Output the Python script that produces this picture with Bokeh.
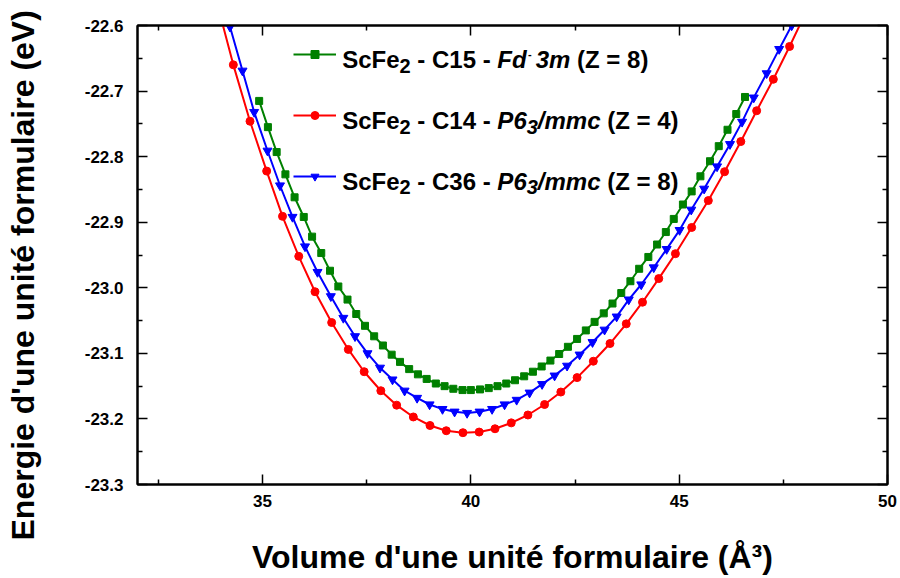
import math
from bokeh.plotting import figure
from bokeh.models import (Range1d, FixedTicker, PrintfTickFormatter, LinearAxis, Label,
                          Legend, LegendItem, CustomJSTickFormatter, Title)
from bokeh.embed import file_html
from bokeh.resources import INLINE

# ---------------- data ----------------
c15_volume = [34.92, 35.13, 35.34, 35.55, 35.77, 35.99, 36.19, 36.41, 36.62, 36.82,
              37.04, 37.25, 37.46, 37.68, 37.89, 38.10, 38.30, 38.52, 38.73, 38.94,
              39.16, 39.37, 39.58, 39.80, 40.00, 40.22, 40.43, 40.64, 40.85, 41.06,
              41.28, 41.49, 41.70, 41.91, 42.12, 42.33, 42.55, 42.76, 42.97, 43.19,
              43.40, 43.61, 43.83, 44.04, 44.26, 44.47, 44.68, 44.87, 45.09, 45.30,
              45.51, 45.74, 45.95, 46.16, 46.37, 46.58]
c15_energy = [-22.715, -22.755, -22.793, -22.827, -22.862, -22.892, -22.922, -22.947, -22.974, -22.998,
              -23.018, -23.040, -23.058, -23.074, -23.088, -23.102, -23.113, -23.124, -23.132, -23.139,
              -23.146, -23.150, -23.154, -23.156, -23.156, -23.155, -23.153, -23.150, -23.146, -23.141,
              -23.135, -23.128, -23.120, -23.111, -23.101, -23.090, -23.078, -23.065, -23.052, -23.039,
              -23.024, -23.008, -22.990, -22.971, -22.953, -22.934, -22.915, -22.895, -22.873, -22.853,
              -22.830, -22.807, -22.784, -22.759, -22.735, -22.709]

c14_volume = [33.91, 34.30, 34.70, 35.10, 35.48, 35.87, 36.26, 36.66, 37.06, 37.44,
              37.84, 38.22, 38.62, 39.02, 39.41, 39.81, 40.20, 40.58, 40.97, 41.37,
              41.77, 42.16, 42.55, 42.94, 43.34, 43.73, 44.12, 44.51, 44.91, 45.30,
              45.70, 46.09, 46.48, 46.86, 47.26, 47.65, 48.04]
c14_energy = [-22.566, -22.660, -22.746, -22.822, -22.891, -22.952, -23.006, -23.053, -23.094, -23.128,
              -23.157, -23.179, -23.197, -23.210, -23.218, -23.221, -23.220, -23.215, -23.206, -23.194,
              -23.178, -23.159, -23.137, -23.112, -23.085, -23.055, -23.022, -22.986, -22.948, -22.908,
              -22.867, -22.823, -22.777, -22.730, -22.682, -22.632, -22.580]

c36_volume = [34.22, 34.52, 34.80, 35.12, 35.42, 35.72, 36.02, 36.32, 36.64, 36.94,
              37.22, 37.52, 37.82, 38.12, 38.41, 38.71, 39.01, 39.32, 39.61, 39.91,
              40.21, 40.51, 40.81, 41.10, 41.41, 41.71, 42.01, 42.31, 42.61, 42.92,
              43.21, 43.50, 43.79, 44.09, 44.39, 44.70, 45.01, 45.29, 45.60, 45.91,
              46.22, 46.51, 46.79, 47.10, 47.40, 47.70]
c36_energy = [-22.602, -22.669, -22.732, -22.791, -22.844, -22.892, -22.937, -22.976, -23.013, -23.046,
              -23.074, -23.100, -23.122, -23.140, -23.157, -23.168, -23.178, -23.185, -23.189, -23.191,
              -23.189, -23.185, -23.178, -23.171, -23.160, -23.147, -23.134, -23.119, -23.102, -23.083,
              -23.064, -23.044, -23.018, -22.995, -22.969, -22.941, -22.912, -22.881, -22.849, -22.815,
              -22.781, -22.747, -22.710, -22.673, -22.636, -22.600]

x_major_ticks = [35, 40, 45, 50]
x_minor_ticks = [32.5, 37.5, 42.5, 47.5]
y_major_ticks = [-23.3, -23.2, -23.1, -23.0, -22.9, -22.8, -22.7, -22.6]
y_minor_ticks = [-23.25, -23.15, -23.05, -22.95, -22.85, -22.75, -22.65]

x_title = "Volume d'une unité formulaire (Å³)"
y_title = "Energie d'une unité formulaire (eV)"

# ---------------- figure ----------------
W, H = 900, 578
FL, FR, FT, FB = 137, 13, 25, 94
FONT = "Liberation Sans"

p = figure(width=W, height=H, output_backend="svg", toolbar_location=None,
           x_range=Range1d(32, 50), y_range=Range1d(-23.3, -22.6),
           min_border_left=FL, min_border_right=FR, min_border_top=FT, min_border_bottom=FB,
           background_fill_color="white", border_fill_color="white")
p.xgrid.visible = False
p.ygrid.visible = False
p.outline_line_color = "black"
p.outline_line_width = 2

def style_axis(ax):
    ax.axis_line_color = "black"
    ax.axis_line_width = 2
    ax.major_tick_in = 10
    ax.major_tick_out = 0
    ax.minor_tick_in = 5
    ax.minor_tick_out = 0
    ax.major_tick_line_width = 1.5
    ax.minor_tick_line_width = 1.5
    ax.major_tick_line_color = "black"
    ax.minor_tick_line_color = "black"
    ax.major_label_text_font = FONT
    ax.major_label_text_font_style = "bold"
    ax.major_label_text_font_size = "17px"
    ax.major_label_text_color = "black"

xa = p.xaxis[0]
xa.ticker = FixedTicker(ticks=x_major_ticks, minor_ticks=x_minor_ticks)
xa.formatter = PrintfTickFormatter(format="%d")
style_axis(xa)
xa.major_label_standoff = 10
xa.axis_label = x_title
xa.axis_label_text_font = FONT
xa.axis_label_text_font_style = "bold"
xa.axis_label_text_font_size = "32px"
xa.axis_label_text_color = "black"
xa.axis_label_standoff = 29

ya = p.yaxis[0]
ya.ticker = FixedTicker(ticks=y_major_ticks, minor_ticks=y_minor_ticks)
ya.formatter = PrintfTickFormatter(format="%.1f")
style_axis(ya)
ya.major_label_standoff = 14
# invisible spacer label that pushes the title further out
ya.axis_label = " "
ya.axis_label_text_font_size = "1px"
ya.axis_label_standoff = 37

blank = CustomJSTickFormatter(code="return ''")
top_ax = LinearAxis(ticker=FixedTicker(ticks=x_major_ticks, minor_ticks=x_minor_ticks), formatter=blank)
style_axis(top_ax)
top_ax.major_label_standoff = 0
top_ax.major_label_text_font_size = "1px"
p.add_layout(top_ax, "above")
right_ax = LinearAxis(ticker=FixedTicker(ticks=y_major_ticks, minor_ticks=y_minor_ticks), formatter=blank)
style_axis(right_ax)
right_ax.major_label_standoff = 0
right_ax.major_label_text_font_size = "1px"
p.add_layout(right_ax, "right")

ytitle = Title(text=y_title, align="left", offset=-56, standoff=0,
               text_font=FONT, text_font_style="bold", text_font_size="32px", text_color="black")
p.add_layout(ytitle, "left")

# ---------------- series ----------------
GREEN, RED, BLUE = "#008000", "#ff0000", "#0000ff"
g_line = p.line(c15_volume, c15_energy, line_color=GREEN, line_width=2)
g_pts = p.scatter(c15_volume, c15_energy, marker="square", size=7, fill_color=GREEN, line_color=GREEN)
r_line = p.line(c14_volume, c14_energy, line_color=RED, line_width=2)
r_pts = p.scatter(c14_volume, c14_energy, marker="circle", size=8, fill_color=RED, line_color=RED)
b_line = p.line(c36_volume, c36_energy, line_color=BLUE, line_width=2)
b_pts = p.scatter(c36_volume, c36_energy, marker="inverted_triangle", size=9, fill_color=BLUE, line_color=BLUE)

legend = Legend(items=[LegendItem(label=" ", renderers=[g_line, g_pts]),
                       LegendItem(label=" ", renderers=[r_line, r_pts]),
                       LegendItem(label=" ", renderers=[b_line, b_pts])],
                location=(156, 298), orientation="vertical",
                glyph_width=43, glyph_height=20, label_height=20, label_width=1,
                spacing=41, padding=0, margin=0, border_line_color=None,
                background_fill_alpha=0, label_text_font_size="2px", label_standoff=0)
p.add_layout(legend)

# ---------------- rich legend text ----------------
CW = {' ': 278, '-': 333, '(': 333, ')': 333, '=': 584, '/': 278, 'S': 667, 'c': 556,
      'F': 611, 'e': 556, 'C': 722, 'Z': 611, 'd': 611, 'm': 889, 'P': 667}

def text_w(s, size):
    return sum(CW.get(ch, 556) for ch in s) / 1000.0 * size

def add_text(text, cx, cy, size, style="bold"):
    p.add_layout(Label(x=cx - FL, y=(H - FB) - cy, x_units="screen", y_units="screen",
                       text=text, text_font=FONT, text_font_style=style,
                       text_font_size=f"{size}px", text_color="black",
                       text_align="left", text_baseline="alphabetic"))

def rich(segments, x0, base):
    x = x0
    for seg in segments:
        if seg[0] is None:  # gap
            x += seg[1]
            continue
        text, style, size, dy = seg
        lead = len(text) - len(text.lstrip(" "))
        add_text(text.strip(" "), x + text_w(" " * lead, size), base + dy, size, style)
        x += text_w(text, size)

legend_texts = [
    [("ScFe", "bold", 24, 0), ("2", "bold", 20, 6), (" - C15 - ", "bold", 24, 0),
     ("Fd", "bold italic", 24, 0), (None, 9), ("3m", "bold italic", 24, 0), (" (Z = 8)", "bold", 24, 0)],
    [("ScFe", "bold", 24, 0), ("2", "bold", 20, 6), (" - C14 - ", "bold", 24, 0),
     ("P6", "bold italic", 24, 0), ("3", "bold italic", 20, 6), ("/mmc", "bold italic", 24, 0),
     (" (Z = 4)", "bold", 24, 0)],
    [("ScFe", "bold", 24, 0), ("2", "bold", 20, 6), (" - C36 - ", "bold", 24, 0),
     ("P6", "bold italic", 24, 0), ("3", "bold italic", 20, 6), ("/mmc", "bold italic", 24, 0),
     (" (Z = 8)", "bold", 24, 0)],
]
for segs, base in zip(legend_texts, [59.3, 120.0, 180.7]):
    rich(segs, 341.7, base)
# small bar of the "-3" in Fd-3m
add_text("-", 527.5, 53.0, 11, "bold")

open("out.html", "w").write(file_html(p, INLINE))
